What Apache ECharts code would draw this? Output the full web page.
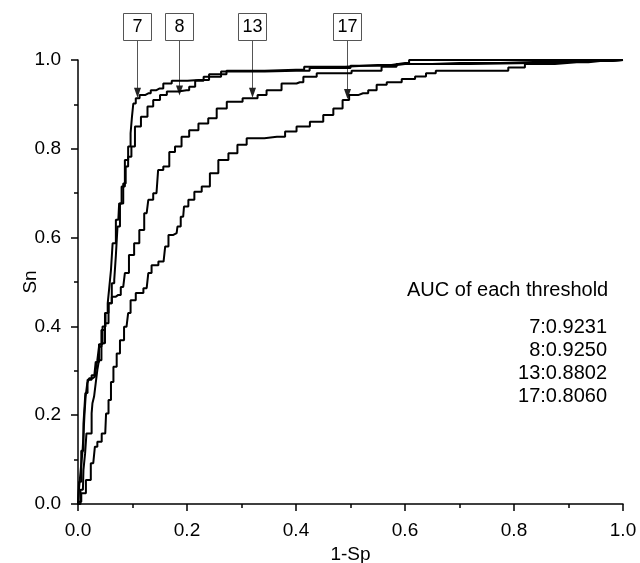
<!DOCTYPE html>
<html>
<head>
<meta charset="utf-8">
<title>ROC curves</title>
<script src="https://cdn.jsdelivr.net/npm/echarts@6/dist/echarts.min.js"></script>
<style>
    html, body { margin: 0; padding: 0; background: #fff; }
    #chart { width: 640px; height: 563px; }
</style>
</head>
<body>
<div id="chart"></div>
<script>
// ROC curve points [1-Sp, Sn]
var curve7 = [
    [0, 0], [0.003, 0.03], [0.007, 0.077], [0.010, 0.122], [0.011, 0.167], [0.013, 0.204],
    [0.015, 0.242], [0.019, 0.272], [0.022, 0.283], [0.031, 0.287], [0.034, 0.302],
    [0.037, 0.324], [0.040, 0.354], [0.046, 0.392], [0.053, 0.430], [0.056, 0.452],
    [0.059, 0.489], [0.062, 0.527], [0.065, 0.587], [0.074, 0.640], [0.077, 0.677],
    [0.083, 0.715], [0.089, 0.775], [0.095, 0.805], [0.098, 0.835], [0.100, 0.872],
    [0.103, 0.902], [0.109, 0.914], [0.117, 0.921], [0.129, 0.925], [0.138, 0.932],
    [0.150, 0.936], [0.163, 0.947], [0.181, 0.953], [0.221, 0.955], [0.260, 0.968],
    [0.285, 0.976], [0.400, 0.978], [0.430, 0.985], [0.550, 0.989], [0.600, 0.993],
    [0.615, 1.0], [1.0, 1.0]
];
var curve8 = [
    [0, 0], [0.009, 0.032], [0.011, 0.077], [0.015, 0.114], [0.016, 0.159], [0.025, 0.159],
    [0.025, 0.204], [0.028, 0.227], [0.031, 0.242], [0.034, 0.272], [0.037, 0.302],
    [0.040, 0.324], [0.046, 0.362], [0.053, 0.407], [0.059, 0.452], [0.065, 0.497],
    [0.068, 0.505], [0.071, 0.560], [0.074, 0.625], [0.080, 0.677], [0.086, 0.722],
    [0.089, 0.760], [0.095, 0.782], [0.101, 0.805], [0.108, 0.850], [0.123, 0.872],
    [0.132, 0.895], [0.144, 0.910], [0.157, 0.921], [0.169, 0.929], [0.199, 0.932],
    [0.209, 0.940], [0.221, 0.953], [0.240, 0.962], [0.285, 0.974], [0.400, 0.976],
    [0.450, 0.982], [0.550, 0.987], [0.600, 0.991], [0.700, 0.993], [0.850, 0.996],
    [0.920, 1.0], [1.0, 1.0]
];
var curve13 = [
    [0, 0], [0.004, 0.05], [0.008, 0.12], [0.012, 0.18], [0.015, 0.25], [0.020, 0.28],
    [0.030, 0.29], [0.035, 0.32], [0.042, 0.36], [0.048, 0.40], [0.053, 0.430],
    [0.059, 0.452], [0.065, 0.467], [0.074, 0.471], [0.083, 0.489], [0.089, 0.520],
    [0.098, 0.561], [0.108, 0.587], [0.117, 0.617], [0.126, 0.655], [0.132, 0.685],
    [0.144, 0.700], [0.150, 0.752], [0.163, 0.760], [0.172, 0.793], [0.184, 0.805],
    [0.196, 0.827], [0.212, 0.842], [0.230, 0.857], [0.248, 0.869], [0.261, 0.891],
    [0.285, 0.906], [0.319, 0.914], [0.340, 0.921], [0.352, 0.932], [0.395, 0.947],
    [0.407, 0.950], [0.420, 0.962], [0.456, 0.970], [0.548, 0.976], [0.566, 0.985],
    [0.603, 0.991], [0.835, 0.993], [0.958, 0.998], [1.0, 1.0]
];
var curve17 = [
    [0, 0], [0.002, 0.005], [0.010, 0.024], [0.019, 0.054], [0.028, 0.092], [0.034, 0.129],
    [0.037, 0.140], [0.050, 0.159], [0.053, 0.204], [0.059, 0.234], [0.062, 0.275],
    [0.068, 0.309], [0.074, 0.339], [0.080, 0.369], [0.089, 0.399], [0.095, 0.430],
    [0.098, 0.459], [0.114, 0.475], [0.126, 0.486], [0.132, 0.520], [0.138, 0.538],
    [0.157, 0.546], [0.163, 0.580], [0.169, 0.606], [0.181, 0.610], [0.184, 0.625],
    [0.193, 0.647], [0.196, 0.670], [0.209, 0.685], [0.218, 0.703], [0.236, 0.715],
    [0.248, 0.745], [0.267, 0.775], [0.285, 0.790], [0.300, 0.809], [0.319, 0.824],
    [0.365, 0.827], [0.395, 0.839], [0.407, 0.850], [0.444, 0.861], [0.456, 0.876],
    [0.481, 0.891], [0.490, 0.910], [0.505, 0.921], [0.523, 0.925], [0.542, 0.932],
    [0.554, 0.944], [0.579, 0.950], [0.609, 0.957], [0.628, 0.963], [0.649, 0.970],
    [0.664, 0.976], [0.774, 0.976], [0.805, 0.983], [0.835, 0.991], [0.915, 0.995],
    [0.958, 0.998], [1.0, 1.0]
];

// threshold labels, where their arrows point, and AUC values
var thresholds = ['7', '8', '13', '17'];
var arrowX = [0.108, 0.186, 0.320, 0.493];
var arrowTipY = [0.915, 0.920, 0.915, 0.912];
var aucValues = ['0.9231', '0.9250', '0.8802', '0.8060'];

var FONT = '"Liberation Sans", Arial, Helvetica, sans-serif';

function makeAxis(name, gap, margin) {
    return {
        type: 'value',
        min: 0,
        max: 1,
        interval: 0.2,
        name: name,
        nameLocation: 'middle',
        nameGap: gap,
        nameMoveOverlap: false,
        nameTextStyle: {color: '#000', fontSize: 19, fontFamily: FONT},
        axisLine: {show: true, lineStyle: {color: '#000', width: 1.5}},
        axisTick: {show: true, inside: false, length: 7, lineStyle: {color: '#000', width: 1.5}},
        minorTick: {show: true, splitNumber: 2, length: 4, lineStyle: {color: '#000', width: 1.5}},
        splitLine: {show: false},
        axisLabel: {
            color: '#000',
            fontSize: 19,
            fontFamily: FONT,
            margin: margin,
            formatter: function (v) {
                return v.toFixed(1);
            }
        }
    };
}

var curves = [curve7, curve8, curve13, curve17];
var seriesArr = curves.map(function (pts, i) {
    return {
        name: thresholds[i],
        type: 'line',
        data: pts,
        step: 'middle',
        showSymbol: false,
        clip: false,
        lineStyle: {color: '#000', width: 2},
        emphasis: {disabled: true}
    };
});

var chart = echarts.init(document.getElementById('chart'));
chart.setOption({
    animation: false,
    grid: {left: 78, right: 17, top: 60, bottom: 59, containLabel: false, outerBoundsMode: 'none'},
    xAxis: makeAxis('1-Sp', 41, 17),
    yAxis: makeAxis('Sn', 38, 17),
    series: seriesArr
});

// annotation boxes with arrows, plus the AUC text block
var elements = [];
thresholds.forEach(function (label, i) {
    var tip = chart.convertToPixel({gridIndex: 0}, [arrowX[i], arrowTipY[i]]);
    var cx = Math.round(tip[0]) + 0.5;
    elements.push({
        type: 'rect',
        shape: {x: cx - 14, y: 13.5, width: 28, height: 27},
        style: {fill: '#fff', stroke: '#555', lineWidth: 1}
    });
    elements.push({
        type: 'text',
        x: cx,
        y: 27.5,
        style: {text: label, fill: '#000', font: '18px ' + FONT, align: 'center', verticalAlign: 'middle'}
    });
    elements.push({
        type: 'line',
        shape: {x1: cx, y1: 40.5, x2: cx, y2: tip[1] - 6},
        style: {stroke: '#555', lineWidth: 1}
    });
    elements.push({
        type: 'polygon',
        shape: {points: [[cx - 3.5, tip[1] - 10], [cx + 3.5, tip[1] - 10], [cx, tip[1]]]},
        style: {fill: '#222'}
    });
});

elements.push({
    type: 'text',
    x: 407,
    y: 290,
    style: {text: 'AUC of each threshold', fill: '#000', font: '20px ' + FONT, align: 'left', verticalAlign: 'middle'}
});
thresholds.forEach(function (label, i) {
    elements.push({
        type: 'text',
        x: 607,
        y: 327 + i * 23.3,
        style: {text: label + ':' + aucValues[i], fill: '#000', font: '20px ' + FONT, align: 'right', verticalAlign: 'middle'}
    });
});

chart.setOption({graphic: {elements: elements}});
</script>
</body>
</html>
